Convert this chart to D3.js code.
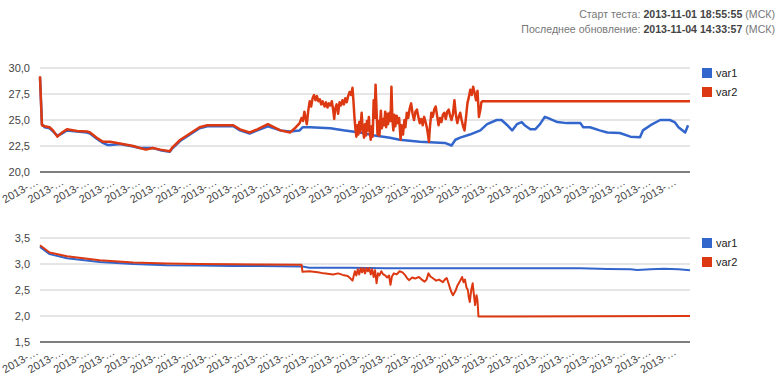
<!DOCTYPE html>
<html>
<head>
<meta charset="utf-8">
<script src="https://cdn.jsdelivr.net/npm/d3@7"></script>
<style>
body { margin: 0; background: #fff; }
svg { font-family: "Liberation Sans", Arial, sans-serif; }
.grid line { stroke: #cccccc; stroke-width: 1; }
.ylab text { fill: #444; font-size: 11px; }
.xlab text { fill: #444; font-size: 11px; }
.legend text { fill: #222; font-size: 11px; }
</style>
</head>
<body>
<svg id="chart" width="780" height="388"></svg>
<script>
// hours since test start / value
const seriesNames = ['var1', 'var2']
const colors = ['#3366cc', '#dc3912']

const timeLabels = d3.range(26).map(() => '2013-…')

const pricesVar1 = [[0, 29.1], [0.2, 24.6], [0.5, 24.3], [1.0, 24.2], [1.35, 23.9], [1.8, 23.5], [2.3, 23.7], [2.8, 24.0],
	[3.85, 23.9], [4.9, 23.8], [5.2, 23.7], [5.9, 23.2], [6.55, 22.8], [7.0, 22.6], [7.3, 22.6], [8.3, 22.7], [9.7, 22.45],
	[10.4, 22.3], [11.75, 22.3], [12.5, 22.1], [13.5, 21.95], [13.8, 22.3], [14.6, 23.0], [15.6, 23.6], [16.6, 24.2],
	[17.4, 24.4], [20.1, 24.4], [20.8, 24.0], [21.8, 23.7], [22.6, 24.0], [23.7, 24.4], [25.0, 24.0], [26.0, 23.9],
	[27.0, 24.0], [27.3, 24.3], [28.1, 24.3], [30.2, 24.2], [31.7, 24.0], [33.3, 23.8], [34.8, 23.5], [36.4, 23.3],
	[37.4, 23.1], [39.5, 22.9], [42.1, 22.8], [42.8, 22.55], [43.2, 23.1], [43.7, 23.3], [44.7, 23.6], [45.8, 24.0],
	[46.5, 24.6], [47.5, 25.0], [48.0, 25.0], [48.6, 24.5], [49.1, 24.0], [49.6, 24.6], [50.1, 24.8], [50.4, 24.5],
	[51.0, 24.1], [51.5, 24.1], [52.0, 24.6], [52.5, 25.3], [52.8, 25.2], [53.8, 24.8], [54.8, 24.7], [56.2, 24.7],
	[56.5, 24.3], [57.2, 24.3], [58.2, 24.0], [59.0, 23.8], [60.3, 23.75], [61.4, 23.4], [62.4, 23.35], [62.7, 24.0],
	[63.5, 24.5], [64.5, 25.0], [65.5, 25.0], [66.0, 24.8], [66.4, 24.3], [67.1, 23.8], [67.4, 24.5]]

const pricesVar2 = [[0, 29.2], [0.2, 24.5], [0.5, 24.4], [1.0, 24.3], [1.35, 24.0], [1.8, 23.4], [2.3, 23.8], [2.8, 24.1],
	[3.85, 23.95], [4.9, 23.9], [5.2, 23.8], [5.9, 23.3], [6.55, 22.9], [7.3, 22.9], [8.3, 22.75], [9.7, 22.5], [10.4, 22.3],
	[11.0, 22.15], [11.75, 22.3], [12.5, 22.15], [13.5, 22.0], [13.8, 22.4], [14.6, 23.1], [15.6, 23.7], [16.6, 24.3],
	[17.4, 24.5], [20.1, 24.5], [20.8, 24.1], [21.8, 23.8], [22.6, 24.1], [23.7, 24.6], [25.0, 24.0], [26.0, 23.8],
	[26.5, 24.2], [27.0, 24.7], [27.2, 25.2], [27.35, 24.9], [27.5, 25.8], [27.6, 25.3], [27.75, 24.6], [27.9, 25.9],
	[28.05, 26.8], [28.2, 26.3], [28.35, 27.1], [28.5, 27.4], [28.65, 26.9], [28.8, 27.3], [28.95, 26.8], [29.1, 27.0],
	[29.25, 26.5], [29.4, 26.8], [29.6, 26.3], [29.75, 26.7], [29.9, 26.2], [30.05, 26.6], [30.2, 26.4], [30.35, 26.8],
	[30.5, 25.9], [30.6, 25.1], [30.7, 26.1], [30.85, 26.5], [31.0, 25.6], [31.15, 26.7], [31.3, 26.4], [31.45, 26.9],
	[31.6, 26.5], [31.75, 27.1], [31.9, 26.7], [32.05, 27.3], [32.2, 27.7], [32.35, 27.4], [32.5, 28.1], [32.6, 26.8],
	[32.7, 25.3], [32.8, 24.2], [32.9, 23.4], [33.0, 24.5], [33.1, 23.6], [33.2, 24.8], [33.3, 23.8], [33.45, 25.7],
	[33.55, 24.3], [33.7, 23.3], [33.8, 24.6], [33.9, 23.5], [34.0, 24.9], [34.1, 24.0], [34.2, 25.3], [34.3, 23.7],
	[34.4, 23.1], [34.5, 24.4], [34.6, 23.4], [34.7, 26.9], [34.8, 25.2], [34.9, 28.4], [35.0, 26.0], [35.1, 23.6],
	[35.2, 24.9], [35.3, 23.5], [35.45, 25.9], [35.55, 24.2], [35.7, 25.1], [35.8, 24.5], [35.9, 25.8], [36.0, 24.3],
	[36.1, 25.6], [36.2, 24.6], [36.35, 25.7], [36.45, 24.9], [36.55, 28.2], [36.65, 25.0], [36.75, 24.0], [36.85, 25.5],
	[36.95, 24.4], [37.1, 25.4], [37.2, 24.7], [37.35, 25.2], [37.5, 23.1], [37.6, 24.5], [37.75, 23.6], [37.9, 25.0],
	[38.0, 24.3], [38.15, 25.7], [38.3, 25.2], [38.45, 26.1], [38.6, 26.6], [38.75, 25.6], [38.9, 25.0], [39.05, 25.8],
	[39.2, 26.0], [39.35, 25.3], [39.5, 24.7], [39.65, 25.1], [39.8, 24.5], [39.95, 25.3], [40.1, 24.8], [40.25, 24.2],
	[40.35, 23.6], [40.45, 22.9], [40.55, 24.3], [40.7, 25.7], [40.85, 25.3], [41.0, 26.0], [41.15, 26.3], [41.3, 25.4],
	[41.45, 24.5], [41.6, 25.2], [41.75, 24.8], [41.9, 25.5], [42.05, 25.7], [42.2, 25.1], [42.35, 25.8], [42.5, 26.0],
	[42.65, 25.4], [42.8, 25.0], [42.95, 25.6], [43.1, 26.9], [43.25, 25.5], [43.4, 24.7], [43.55, 25.3], [43.7, 25.7],
	[43.85, 25.0], [44.0, 24.4], [44.15, 24.0], [44.3, 25.2], [44.45, 26.6], [44.6, 27.2], [44.75, 27.9], [44.9, 27.4],
	[45.05, 28.2], [45.2, 27.6], [45.35, 26.9], [45.5, 27.8], [45.65, 25.3], [45.8, 26.0], [45.9, 26.7], [46.0, 26.8],
	[67.6, 26.8]]

const ratioVar1 = [[0, 3.33], [1.0, 3.19], [2.8, 3.11], [6.2, 3.04], [9.7, 3.0], [13.2, 2.975], [16.6, 2.97], [20.1, 2.96],
	[23.0, 2.96], [27.3, 2.95], [28.0, 2.93], [32.3, 2.93], [36.0, 2.92], [56.2, 2.92], [59.0, 2.905], [61.4, 2.9],
	[62.1, 2.885], [63.5, 2.9], [64.9, 2.91], [66.4, 2.9], [67.6, 2.88]]

const ratioVar2 = [[0, 3.36], [1.0, 3.22], [2.8, 3.15], [6.2, 3.07], [9.7, 3.03], [13.2, 3.01], [16.6, 3.0], [20.1, 2.995],
	[23.0, 2.99], [27.2, 2.985], [27.3, 2.85], [28.0, 2.86], [28.9, 2.84], [29.5, 2.82], [30.5, 2.8], [31.0, 2.82],
	[31.5, 2.79], [32.0, 2.77], [32.3, 2.72], [32.5, 2.68], [32.6, 2.75], [32.75, 2.86], [32.9, 2.78], [33.05, 2.9],
	[33.2, 2.8], [33.35, 2.92], [33.5, 2.84], [33.65, 2.92], [33.8, 2.82], [33.95, 2.92], [34.1, 2.86], [34.25, 2.92],
	[34.4, 2.8], [34.55, 2.9], [34.7, 2.75], [34.85, 2.88], [35.0, 2.63], [35.15, 2.82], [35.3, 2.78], [35.5, 2.86],
	[35.7, 2.8], [35.9, 2.78], [36.1, 2.74], [36.3, 2.78], [36.45, 2.6], [36.6, 2.76], [36.8, 2.82], [37.1, 2.8],
	[37.4, 2.86], [37.7, 2.84], [38.0, 2.78], [38.2, 2.72], [38.4, 2.69], [38.7, 2.74], [39.0, 2.72], [39.4, 2.75],
	[39.7, 2.7], [40.0, 2.66], [40.2, 2.7], [40.4, 2.82], [40.6, 2.76], [40.9, 2.72], [41.2, 2.68], [41.5, 2.7],
	[41.9, 2.65], [42.1, 2.7], [42.3, 2.73], [42.5, 2.62], [42.6, 2.56], [42.8, 2.45], [42.95, 2.4], [43.2, 2.48],
	[43.4, 2.58], [43.7, 2.68], [43.9, 2.75], [44.05, 2.65], [44.2, 2.7], [44.35, 2.55], [44.5, 2.5], [44.6, 2.35],
	[44.7, 2.27], [44.85, 2.5], [45.0, 2.63], [45.1, 2.45], [45.25, 2.21], [45.4, 2.4], [45.5, 2.3], [45.6, 1.99],
	[67.6, 2.0]]

const topTicks = [20, 22.5, 25, 27.5, 30]
const bottomTicks = [1.5, 2, 2.5, 3, 3.5]

const svg = d3.select('#chart')
const fmt = v => d3.format('.1f')(v).replace('.', ',')

// header
const headerLines = [
	['Старт теста: ', '2013-11-01 18:55:55'],
	['Последнее обновление: ', '2013-11-04 14:33:57']
]

headerLines.forEach((l, i) => {
	let t = svg.append('text')
		.attr('text-anchor', 'end')
		.style('font-size', '10.6px')
		.style('fill', '#777')
	t.append('tspan').attr('x', 775).attr('y', 18 + i * 15).text(l[0])
	t.append('tspan').style('font-weight', 'bold').style('fill', '#444').text(l[1])
	t.append('tspan').text(' (МСК)')
})

const drawChart = (top, bottom, ticks, series, lineWidth) => {

	let x = d3.scaleLinear().domain([0, 67.6]).range([40, 690])
	let y = d3.scaleLinear().domain([ticks[0], ticks[ticks.length - 1]]).range([bottom, top])

	let g = svg.append('g')

	g.append('g').attr('class', 'grid')
		.selectAll('line')
		.data(ticks.slice(1))
		.join('line')
		.attr('x1', 40).attr('x2', 690)
		.attr('y1', d => y(d)).attr('y2', d => y(d))

	g.append('line')
		.attr('x1', 40).attr('x2', 690)
		.attr('y1', y(ticks[0])).attr('y2', y(ticks[0]))
		.style('stroke', '#555').style('stroke-width', 1.5)

	g.append('g').attr('class', 'ylab')
		.selectAll('text')
		.data(ticks)
		.join('text')
		.attr('x', 30)
		.attr('y', d => y(d) + 4)
		.attr('text-anchor', 'end')
		.text(fmt)

	let xl = d3.scalePoint().domain(d3.range(timeLabels.length)).range([40, 678])

	g.append('g').attr('class', 'xlab')
		.selectAll('text')
		.data(timeLabels)
		.join('text')
		.attr('text-anchor', 'end')
		.attr('transform', (d, i) => 'translate(' + (xl(i) - 1) + ',' + (bottom + 12) + ') rotate(-30)')
		.text(d => d)

	let line = d3.line().x(d => x(d[0])).y(d => y(d[1]))

	series.forEach((s, i) => {
		g.append('path')
			.datum(s)
			.attr('d', line)
			.attr('fill', 'none')
			.attr('stroke', colors[i])
			.attr('stroke-width', lineWidth)
			.attr('stroke-linejoin', 'round')
	})

	let legend = g.append('g').attr('class', 'legend')
	seriesNames.forEach((n, i) => {
		legend.append('rect')
			.attr('x', 702).attr('y', top + i * 19)
			.attr('width', 10).attr('height', 10)
			.attr('fill', colors[i])
		legend.append('text')
			.attr('x', 716).attr('y', top + i * 19 + 9)
			.text(n)
	})
}

drawChart(68, 172, topTicks, [pricesVar1, pricesVar2], 2.5)
drawChart(238, 342, bottomTicks, [ratioVar1, ratioVar2], 2)
</script>
</body>
</html>
